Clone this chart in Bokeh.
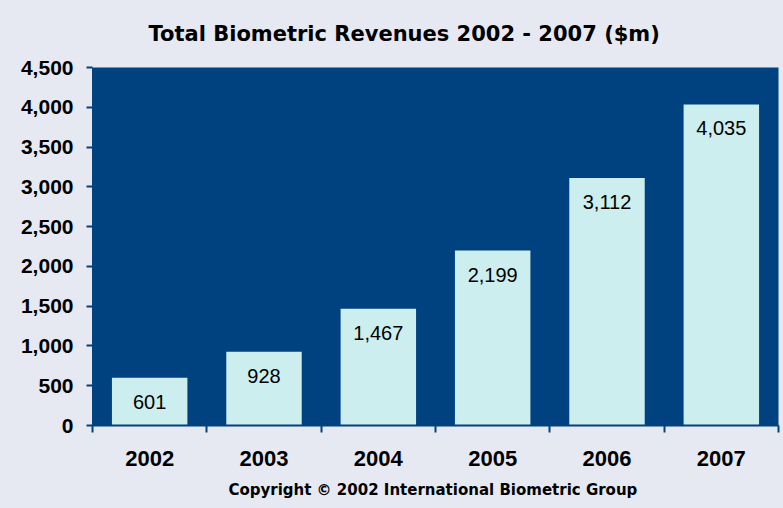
from bokeh.plotting import figure
from bokeh.models import Range1d, FixedTicker, NumeralTickFormatter, ColumnDataSource, Title
from bokeh.core.properties import value
from bokeh.embed import file_html
from bokeh.resources import INLINE

years = ["2002", "2003", "2004", "2005", "2006", "2007"]
revenues = [601, 928, 1467, 2199, 3112, 4035]
labels = ["601", "928", "1,467", "2,199", "3,112", "4,035"]
title_text = "Total Biometric Revenues 2002 - 2007 ($m)"
copyright_text = "Copyright © 2002  International Biometric Group"

BG = "#E6E9F2"
PLOT = "#00427F"
BAR = "#CCEEEE"
TICKFONT = "Liberation Sans"

xs = [i + 0.5 for i in range(len(years))]
src = ColumnDataSource(dict(x=xs, top=revenues, lab=labels))

p = figure(width=783, height=508, output_backend="svg", toolbar_location=None,
           x_range=Range1d(0, len(years)), y_range=Range1d(0, 4500),
           min_border_left=92, min_border_right=5, min_border_top=67, min_border_bottom=81)
p.background_fill_color = PLOT
p.border_fill_color = BG
p.outline_line_color = None
p.grid.visible = False

p.vbar(x="x", top="top", width=0.66, bottom=0, source=src, color=BAR, line_color=None)
p.text(x="x", y="top", text="lab", source=src, y_offset=24, text_align="center",
       text_baseline="middle", text_font=value("Liberation Sans"), text_font_size="20px",
       text_color="black")

t = Title(text=title_text, align="left", offset=56, vertical_align="top",
          text_font="DejaVu Sans", text_font_size="21px", text_font_style="bold",
          text_color="black", standoff=40)
p.add_layout(t, "above")
c = Title(text=copyright_text, align="center",
          text_font="DejaVu Sans", text_font_size="15px", text_font_style="bold",
          text_color="black", standoff=20)
p.add_layout(c, "below")

xa = p.xaxis[0]
xa.ticker = FixedTicker(ticks=xs, minor_ticks=list(range(len(years) + 1)))
xa.major_label_overrides = {x: y for x, y in zip(xs, years)}
xa.major_tick_out = 0
xa.major_tick_in = 0
xa.minor_tick_out = 7
xa.minor_tick_in = 0
xa.minor_tick_line_color = PLOT
xa.minor_tick_line_width = 2
xa.axis_line_color = PLOT
xa.axis_line_width = 2
xa.major_label_standoff = 18
xa.major_label_text_font = TICKFONT
xa.major_label_text_font_size = "22px"
xa.major_label_text_font_style = "bold"
xa.major_label_text_color = "black"

ya = p.yaxis[0]
ya.ticker = FixedTicker(ticks=list(range(0, 4501, 500)))
ya.formatter = NumeralTickFormatter(format="0,0")
ya.major_tick_out = 6
ya.major_tick_in = 0
ya.minor_tick_out = 0
ya.minor_tick_in = 0
ya.major_tick_line_color = PLOT
ya.major_tick_line_width = 2
ya.axis_line_color = PLOT
ya.major_label_standoff = 13
ya.major_label_text_font = TICKFONT
ya.major_label_text_font_size = "21px"
ya.major_label_text_font_style = "bold"
ya.major_label_text_color = "black"

html = file_html(p, INLINE)
html = html.replace("</head>", "<style>html, body { background: %s; }</style></head>" % BG, 1)
open("out.html", "w").write(html)
